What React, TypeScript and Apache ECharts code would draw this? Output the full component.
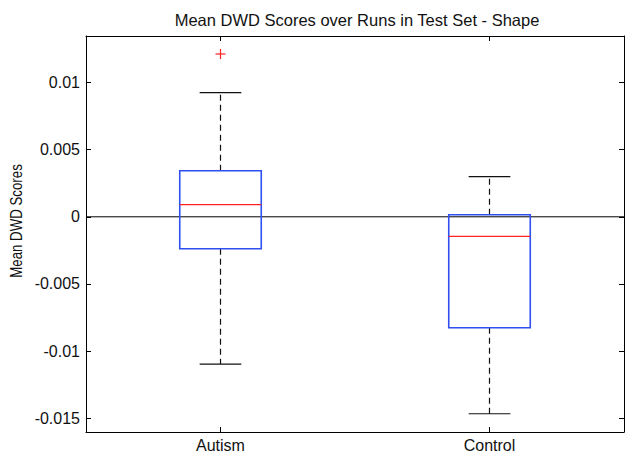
import React, { useEffect, useRef } from "react";
import * as echarts from "echarts";

const categories = ["Autism", "Control"];
const lowerWhisker = [-0.01096, -0.01466];
const q1 = [-0.002375, -0.008256];
const median = [0.0009, -0.001452];
const q3 = [0.00343, 0.000156];
const upperWhisker = [0.00924, 0.002985];
// [category index, value]
const outliers: [number, number][] = [[0, 0.01212]];
const yTicks = [-0.015, -0.01, -0.005, 0, 0.005, 0.01];
const xTicks = [1, 2];
const yMin = -0.01602;
const yMax = 0.01346;
const zeroLineY = 0;

const FONT = '"Liberation Sans", Arial, Helvetica, sans-serif';

export default function App() {
  const ref = useRef<HTMLDivElement>(null);

  useEffect(() => {
    if (!ref.current) return;
    const chart = echarts.init(ref.current, null, { renderer: "svg" });

    const boxData = categories.map((_, i) => [
      i + 1,
      lowerWhisker[i],
      q1[i],
      median[i],
      q3[i],
      upperWhisker[i],
    ]);
    const outlierData = outliers.map(([i, v]) => [i + 1, v]);

    const boxHalf = 0.1515;
    const capHalf = 0.0775;

    const renderBox = (params: any, api: any) => {
      const x = api.value(0);
      const lw = api.value(1);
      const b1 = api.value(2);
      const md = api.value(3);
      const b3 = api.value(4);
      const uw = api.value(5);
      const pTopLeft = api.coord([x - boxHalf, b3]);
      const pBotRight = api.coord([x + boxHalf, b1]);
      const pMedL = api.coord([x - boxHalf, md]);
      const pMedR = api.coord([x + boxHalf, md]);
      const pQ3 = api.coord([x, b3]);
      const pQ1 = api.coord([x, b1]);
      const pUW = api.coord([x, uw]);
      const pLW = api.coord([x, lw]);
      const capL = api.coord([x - capHalf, uw]);
      const capR = api.coord([x + capHalf, uw]);
      const capL2 = api.coord([x - capHalf, lw]);
      const capR2 = api.coord([x + capHalf, lw]);
      const whiskerStyle = { stroke: "#111", lineWidth: 1.2, lineDash: [6, 4] };
      const capStyle = { stroke: "#111", lineWidth: 1.2 };
      return {
        type: "group",
        children: [
          { type: "line", shape: { x1: pQ3[0], y1: pQ3[1], x2: pUW[0], y2: pUW[1] }, style: whiskerStyle },
          { type: "line", shape: { x1: pQ1[0], y1: pQ1[1], x2: pLW[0], y2: pLW[1] }, style: whiskerStyle },
          { type: "line", shape: { x1: capL[0], y1: capL[1], x2: capR[0], y2: capR[1] }, style: capStyle },
          { type: "line", shape: { x1: capL2[0], y1: capL2[1], x2: capR2[0], y2: capR2[1] }, style: capStyle },
          {
            type: "rect",
            shape: {
              x: pTopLeft[0],
              y: pTopLeft[1],
              width: pBotRight[0] - pTopLeft[0],
              height: pBotRight[1] - pTopLeft[1],
            },
            style: { fill: "none", stroke: "#2f4ff0", lineWidth: 1.6 },
          },
          {
            type: "line",
            shape: { x1: pMedL[0], y1: pMedL[1], x2: pMedR[0], y2: pMedR[1] },
            style: { stroke: "#ff2222", lineWidth: 1.3 },
          },
        ],
      };
    };

    const renderOutlier = (params: any, api: any) => {
      const p = api.coord([api.value(0), api.value(1)]);
      const r = 5;
      const st = { stroke: "#ff2222", lineWidth: 1.2 };
      return {
        type: "group",
        children: [
          { type: "line", shape: { x1: p[0] - r, y1: p[1], x2: p[0] + r, y2: p[1] }, style: st },
          { type: "line", shape: { x1: p[0], y1: p[1] - r, x2: p[0], y2: p[1] + r }, style: st },
        ],
      };
    };

    const axisLineStyle = { color: "#000", width: 1 };

    chart.setOption({
      animation: false,
      backgroundColor: "#fff",
      textStyle: { fontFamily: FONT },
      title: {
        text: "Mean DWD Scores over Runs in Test Set - Shape",
        left: 352,
        top: 6,
        textAlign: "center",
        textStyle: { fontFamily: FONT, fontSize: 16.5, fontWeight: "normal", color: "#111" },
      },
      graphic: [
        {
          type: "text",
          x: 17,
          y: 221,
          rotation: Math.PI / 2,
          scaleX: 0.83,
          scaleY: 1,
          style: {
            text: "Mean DWD Scores",
            font: `16px ${FONT}`,
            fill: "#111",
            textAlign: "center",
            textVerticalAlign: "middle",
          },
        },
      ],
      grid: { left: 86, right: 12, top: 36, bottom: 31, containLabel: false },
      xAxis: [
        {
          type: "value",
          position: "bottom",
          min: 0.5,
          max: 2.5,
          axisLine: { show: true, onZero: false, lineStyle: axisLineStyle },
          axisTick: { show: true, inside: true, length: 5, customValues: xTicks, lineStyle: axisLineStyle },
          axisLabel: {
            show: true,
            customValues: xTicks,
            formatter: (v: number) => categories[Math.round(v) - 1],
            fontSize: 16,
            color: "#111",
            fontFamily: FONT,
            margin: 5,
          },
          splitLine: { show: false },
        },
        {
          type: "value",
          position: "top",
          min: 0.5,
          max: 2.5,
          axisLine: { show: true, onZero: false, lineStyle: axisLineStyle },
          axisTick: { show: true, inside: true, length: 5, customValues: xTicks, lineStyle: axisLineStyle },
          axisLabel: { show: false },
          splitLine: { show: false },
        },
      ],
      yAxis: [
        {
          type: "value",
          position: "left",
          min: yMin,
          max: yMax,
          axisLine: { show: true, onZero: false, lineStyle: axisLineStyle },
          axisTick: { show: true, inside: true, length: 5, customValues: yTicks, lineStyle: axisLineStyle },
          axisLabel: {
            show: true,
            customValues: yTicks,
            formatter: (v: number) => String(v),
            fontSize: 16,
            color: "#111",
            fontFamily: FONT,
            margin: 6,
          },
          splitLine: { show: false },
        },
        {
          type: "value",
          position: "right",
          min: yMin,
          max: yMax,
          axisLine: { show: true, onZero: false, lineStyle: axisLineStyle },
          axisTick: { show: true, inside: true, length: 5, customValues: yTicks, lineStyle: axisLineStyle },
          axisLabel: { show: false },
          splitLine: { show: false },
        },
      ],
      series: [
        {
          type: "line",
          xAxisIndex: 0,
          yAxisIndex: 0,
          data: [
            [0.5, zeroLineY],
            [2.5, zeroLineY],
          ],
          showSymbol: false,
          symbol: "none",
          lineStyle: { color: "#000", width: 1 },
          silent: true,
          z: 1,
        },
        {
          type: "custom",
          name: "box",
          xAxisIndex: 0,
          yAxisIndex: 0,
          renderItem: renderBox,
          encode: { x: 0, y: [1, 2, 3, 4, 5] },
          data: boxData,
          z: 2,
        },
        {
          type: "custom",
          name: "outliers",
          xAxisIndex: 0,
          yAxisIndex: 0,
          renderItem: renderOutlier,
          encode: { x: 0, y: 1 },
          data: outlierData,
          z: 3,
        },
      ],
    });

    return () => {
      chart.dispose();
    };
  }, []);

  return (
    <div
      ref={ref}
      style={{ position: "absolute", left: 0, top: 0, width: 636, height: 463, background: "#fff" }}
    />
  );
}
